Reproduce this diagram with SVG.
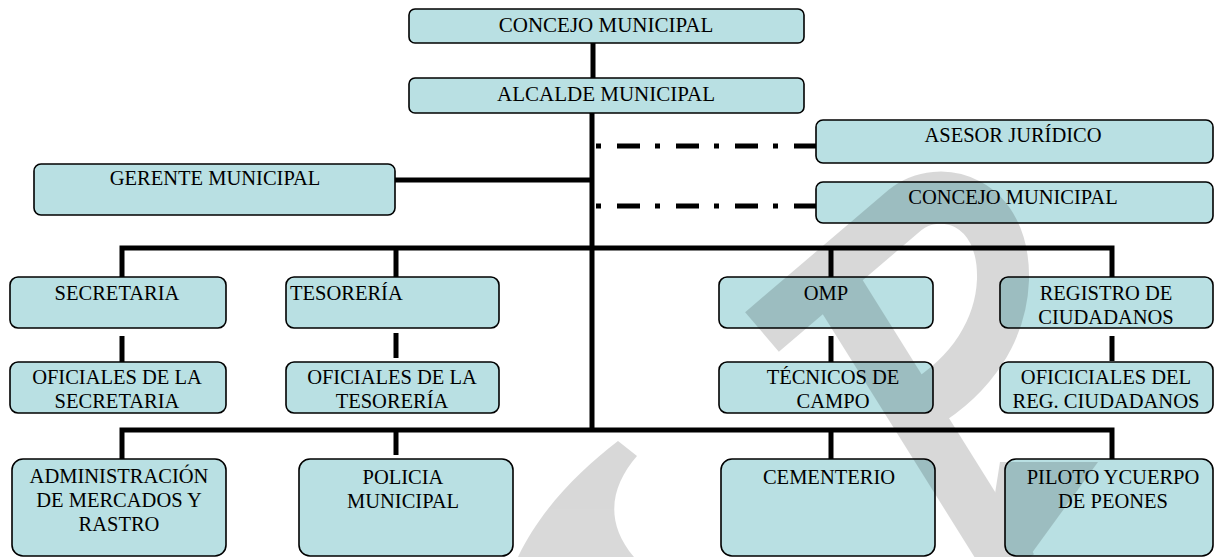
<svg xmlns="http://www.w3.org/2000/svg" width="1217" height="557" viewBox="0 0 1217 557">
<style>
.box{fill:#b9e0e3;stroke:#000;stroke-width:1.6}
.t{font-size:20.5px;fill:#000;text-anchor:middle}
.big{font-size:21px}
.st{text-anchor:start}
.c{stroke:#000;stroke-width:5;fill:none;stroke-linejoin:miter}
.dd{stroke-dasharray:5 16 23 15}
.w{stroke:#000;fill:none;stroke-width:52}
</style>
<rect width="1217" height="557" fill="#fff"/>
<g id="connectors">
<path class="c" d="M593 43V78" stroke-width="6"/>
<path class="c" d="M592 113V432"/>
<path class="c" d="M395 180H592"/>
<path class="c dd" d="M596 146H816"/>
<path class="c dd" d="M596 206H816"/>
<path class="c" d="M122 277V248H1112V277"/>
<path class="c" d="M396 248V277"/>
<path class="c" d="M831 248V277"/>
<path class="c" d="M122 336V362"/>
<path class="c" d="M396 333V358"/>
<path class="c" d="M831 336V362"/>
<path class="c" d="M1112 336V361"/>
<path class="c" d="M122 459V430H1112V459"/>
<path class="c" d="M396 430V455"/>
<path class="c" d="M831 430V459"/>
</g>
<g id="n1"><rect class="box" x="409" y="9" width="395" height="34" rx="6"/></g>
<g id="n2"><rect class="box" x="409" y="78" width="395" height="35" rx="6"/></g>
<g id="n3"><rect class="box" x="816" y="120" width="397" height="43" rx="7"/></g>
<g id="n4"><rect class="box" x="816" y="182" width="397" height="41" rx="7"/></g>
<g id="n5"><rect class="box" x="34" y="164" width="361" height="51" rx="7"/></g>
<g id="n6"><rect class="box" x="10" y="277" width="216" height="51" rx="8"/></g>
<g id="n7"><rect class="box" x="286" y="277" width="213" height="51" rx="8"/></g>
<g id="n8"><rect class="box" x="719" y="277" width="214" height="51" rx="8"/></g>
<g id="n9"><rect class="box" x="1000" y="277" width="213" height="51" rx="8"/></g>
<g id="n10"><rect class="box" x="10" y="362" width="216" height="51" rx="8"/></g>
<g id="n11"><rect class="box" x="286" y="362" width="213" height="51" rx="8"/></g>
<g id="n12"><rect class="box" x="719" y="362" width="214" height="51" rx="8"/></g>
<g id="n13"><rect class="box" x="1000" y="362" width="213" height="51" rx="8"/></g>
<g id="n14"><rect class="box" x="12" y="459" width="214" height="97" rx="11"/></g>
<g id="n15"><rect class="box" x="299" y="459" width="214" height="97" rx="11"/></g>
<g id="n16"><rect class="box" x="721" y="459" width="214" height="97" rx="11"/></g>
<g id="n17"><rect class="box" x="1005" y="459" width="208" height="97" rx="11"/></g>
<g id="watermark" opacity="0.15">
<path class="w" stroke-linejoin="round" d="M762 332L905 210C940 182 1005 200 1003 280C1001 330 972 375 922 405"/>
<path class="w" d="M832 280L1012 568"/>
<path d="M1000 462L1098 462L1029 557L985 557Z"/>
<path d="M618 441L637 456C612 485 603 520 634 557L518 557C540 510 580 470 618 441Z"/>
</g>
<g id="labels" font-family="'Liberation Serif', 'Times New Roman', serif">
<text class="t big" x="606" y="32">CONCEJO MUNICIPAL</text>
<text class="t big" x="606" y="101">ALCALDE MUNICIPAL</text>
<text class="t" x="1013" y="142">ASESOR JURÍDICO</text>
<text class="t" x="1013" y="204">CONCEJO MUNICIPAL</text>
<text class="t" x="215" y="185">GERENTE MUNICIPAL</text>
<text class="t" x="117" y="300">SECRETARIA</text>
<text class="t st" x="290" y="300">TESORERÍA</text>
<text class="t" x="826" y="300">OMP</text>
<text class="t" x="1106" y="300">REGISTRO DE</text>
<text class="t" x="1106" y="324">CIUDADANOS</text>
<text class="t" x="117" y="384">OFICIALES DE LA</text>
<text class="t" x="117" y="408">SECRETARIA</text>
<text class="t" x="392" y="384">OFICIALES DE LA</text>
<text class="t" x="392" y="408">TESORERÍA</text>
<text class="t" x="833" y="384">TÉCNICOS DE</text>
<text class="t" x="833" y="408">CAMPO</text>
<text class="t" x="1106" y="384">OFICICIALES DEL</text>
<text class="t" x="1106" y="408">REG. CIUDADANOS</text>
<text class="t" x="119" y="483">ADMINISTRACIÓN</text>
<text class="t" x="119" y="507">DE MERCADOS Y</text>
<text class="t" x="119" y="531">RASTRO</text>
<text class="t" x="403" y="484">POLICIA</text>
<text class="t" x="403" y="508">MUNICIPAL</text>
<text class="t" x="829" y="484">CEMENTERIO</text>
<text class="t" x="1113" y="484">PILOTO YCUERPO</text>
<text class="t" x="1113" y="508">DE PEONES</text>
</g>
</svg>
